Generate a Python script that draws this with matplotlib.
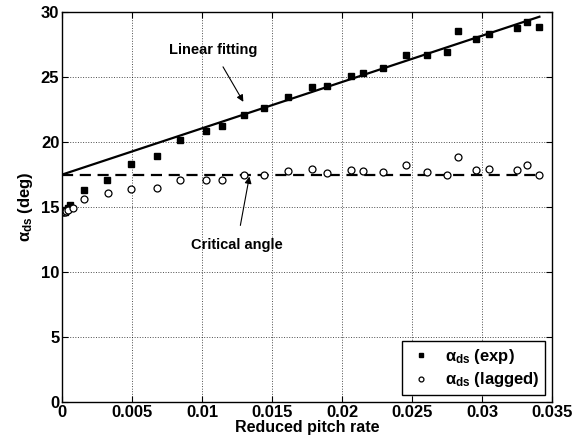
import numpy as np
import matplotlib
matplotlib.use('Agg')
import matplotlib.pyplot as plt

plt.rcParams['font.family'] = ['Liberation Sans', 'DejaVu Sans']
plt.rcParams['font.weight'] = 'bold'
plt.rcParams['axes.labelweight'] = 'bold'
plt.rcParams['mathtext.fontset'] = 'custom'
plt.rcParams['mathtext.rm'] = 'Liberation Sans:bold'
plt.rcParams['mathtext.it'] = 'Liberation Sans:bold'
plt.rcParams['mathtext.bf'] = 'Liberation Sans:bold'

# reduced pitch rate
x_exp = [0.0001, 0.0002, 0.0003, 0.0004, 0.0006, 0.00155, 0.00324, 0.00495, 0.00679,
         0.0084, 0.01026, 0.0114, 0.01302, 0.0144, 0.01612, 0.01783, 0.0189,
         0.02064, 0.0215, 0.02295, 0.02457, 0.02605, 0.02748, 0.0283, 0.02957,
         0.0305, 0.03252, 0.03321, 0.03409]
a_exp = [14.6, 14.65, 14.75, 14.9, 15.15, 16.3, 17.05, 18.35, 18.95,
         20.15, 20.85, 21.25, 22.1, 22.6, 23.5, 24.25, 24.3,
         25.05, 25.3, 25.7, 26.7, 26.7, 26.9, 28.55, 27.95,
         28.35, 28.75, 29.25, 28.85]
x_lag = [0.0001, 0.0002, 0.0003, 0.0004, 0.00076, 0.00155, 0.00326, 0.00495, 0.00679,
         0.0084, 0.01029, 0.0114, 0.01302, 0.0144, 0.01612, 0.01783, 0.0189,
         0.02064, 0.0215, 0.02295, 0.02457, 0.02605, 0.02748, 0.0283, 0.02957,
         0.0305, 0.03252, 0.03321, 0.03409]
a_lag = [14.6, 14.65, 14.7, 14.8, 14.95, 15.65, 16.1, 16.4, 16.45,
         17.1, 17.1, 17.1, 17.45, 17.45, 17.75, 17.95, 17.65,
         17.85, 17.8, 17.7, 18.2, 17.7, 17.45, 18.85, 17.85,
         17.95, 17.85, 18.2, 17.5]

fit_x = [0.0, 0.0341]
fit_y = [17.5, 29.65]
crit_x = [0.0, 0.0343]
crit_y = [17.5, 17.5]

fig = plt.figure(figsize=(5.75, 4.46), dpi=100)
ax = fig.add_axes([0.108, 0.0987, 0.852, 0.874])

ax.plot(fit_x, fit_y, color='k', lw=1.6)
ax.plot(crit_x, crit_y, color='k', lw=1.6, ls=(0, (5, 3)))
ax.plot(x_exp, a_exp, ls='none', marker='s', ms=4.5, color='k',
        label=r'$\alpha_{\mathrm{ds}}$ (exp)')
ax.plot(x_lag, a_lag, ls='none', marker='o', ms=5, mfc='white', mec='k', mew=0.9,
        label=r'$\alpha_{\mathrm{ds}}$ (lagged)')

ax.annotate('Linear fitting', xy=(0.01295, 23.1), xytext=(0.01079, 27.1),
            ha='center', va='center', fontsize=10.5,
            arrowprops=dict(arrowstyle='-|>', color='k', lw=0.8, mutation_scale=10,
                            shrinkA=6, shrinkB=0))
ax.annotate('Critical angle', xy=(0.01338, 17.35), xytext=(0.01248, 12.1),
            ha='center', va='center', fontsize=10.5,
            arrowprops=dict(arrowstyle='-|>', color='k', lw=0.8, mutation_scale=10,
                            shrinkA=7, shrinkB=0))

ax.set_xlim(0, 0.035)
ax.set_ylim(0, 30)
ax.set_xticks(np.arange(0, 0.0351, 0.005))
ax.set_xticklabels(['0', '0.005', '0.01', '0.015', '0.02', '0.025', '0.03', '0.035'])
ax.set_yticks(np.arange(0, 31, 5))
ax.grid(True, color='k', ls=':', lw=0.7, alpha=0.7)
ax.tick_params(direction='in', top=True, right=True, labelsize=12, length=4, pad=2)
for s in ax.spines.values():
    s.set_linewidth(1.0)

ax.set_xlabel('Reduced pitch rate', fontsize=11.5, labelpad=0)
ax.set_ylabel(r'$\alpha_{\mathrm{ds}}$ (deg)', fontsize=12, labelpad=4)

leg = ax.legend(loc='lower right', fontsize=12, fancybox=False, edgecolor='k',
                framealpha=1, borderaxespad=0.4, handletextpad=0.6, handlelength=1.6,
                borderpad=0.35, labelspacing=0.25, markerscale=0.7)
leg.get_frame().set_linewidth(1.0)

fig.savefig('out.png', dpi=100)
